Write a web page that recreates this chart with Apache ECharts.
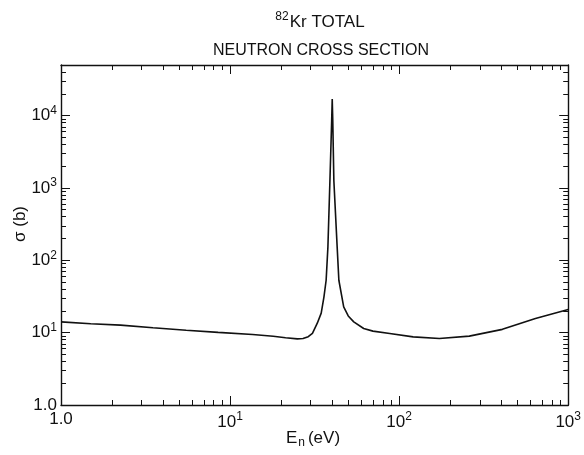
<!DOCTYPE html>
<html>
<head>
<meta charset="utf-8">
<script src="https://cdn.jsdelivr.net/npm/echarts@6/dist/echarts.min.js"></script>
<style>html,body{margin:0;padding:0;background:#fff;}#c{width:584px;height:455px;}</style>
</head>
<body>
<div id="c"></div>
<script>
// Data (energy in eV, total cross section in barns)
var energy = [1, 1.5, 2.25, 3.5, 5.5, 8.5, 13.6, 18, 21.3, 25, 27, 29, 30.7, 32.8, 34.6, 35.9, 37.0, 37.9, 38.96, 39.9, 40.2, 40.5, 41.1, 43.0, 44, 47, 50, 53.9, 61.7, 70, 88, 121, 173, 260, 408, 640, 1000];
var sigma  = [14.1, 13.3, 12.7, 11.7, 10.8, 10.1, 9.44, 8.9, 8.5, 8.2, 8.3, 8.8, 9.8, 13.5, 18.6, 31, 53, 152, 1270, 8500, 17000, 8500, 1270, 152, 53, 22.7, 17, 14.1, 11.4, 10.5, 9.75, 8.75, 8.3, 8.95, 11.1, 15.7, 20.9];

var xMajor = [1, 10, 100, 1000];
var xMinor = [2,3,4,5,6,7,8,9, 20,30,40,50,60,70,80,90, 200,300,400,500,600,700,800,900];
var yMajor = [1, 10, 100, 1000, 10000];
var yMinor = [2,3,4,5,6,7,8,9, 20,30,40,50,60,70,80,90, 200,300,400,500,600,700,800,900,
              2000,3000,4000,5000,6000,7000,8000,9000, 20000,30000,40000];

var FONT = 'Liberation Sans';
var rich = {
  b: {fontFamily: FONT, fontSize: 17, color: '#111'},
  s: {fontFamily: FONT, fontSize: 12, color: '#111', padding: [0, 0, 10, 0]}
};
function powLabel(v) {
  if (v === 1) return '{b|1.0}';
  var e = Math.round(Math.log10(v));
  return '{b|10}{s|' + e + '}';
}

function xAx(pos, ticks, len, showLabel, showLine) {
  return {
    type: 'log', logBase: 10, min: 1, max: 1000, position: pos,
    axisLine: {show: showLine, onZero: false, lineStyle: {color: '#111', width: 1.4}},
    axisTick: {show: true, inside: true, length: len, customValues: ticks, lineStyle: {color: '#111', width: 1}},
    axisLabel: {show: showLabel, customValues: xMajor, formatter: powLabel, rich: rich, margin: 6},
    splitLine: {show: false}
  };
}
function yAx(pos, ticks, len, showLabel, showLine) {
  return {
    type: 'log', logBase: 10, min: 1, max: 50000, position: pos,
    axisLine: {show: showLine, onZero: false, lineStyle: {color: '#111', width: 1.4}},
    axisTick: {show: true, inside: true, length: len, customValues: ticks, lineStyle: {color: '#111', width: 1}},
    axisLabel: {show: showLabel, customValues: yMajor, formatter: powLabel, rich: rich, margin: 4},
    splitLine: {show: false}
  };
}

var chart = echarts.init(document.getElementById('c'), null, {renderer: 'canvas'});
chart.setOption({
  backgroundColor: '#fff',
  animation: false,
  grid: {left: 61, right: 11, top: 65, bottom: 50, containLabel: false},
  title: [
    {text: '{s|82}{t|Kr TOTAL}', left: 315, top: 6, textAlign: 'center',
     textStyle: {fontWeight: 'normal', rich: {
       s: {fontFamily: FONT, fontSize: 12, fontWeight: 'normal', color: '#111', padding: [0, 1, 10, 0]},
       t: {fontFamily: FONT, fontSize: 17, fontWeight: 'normal', color: '#111'}
     }}},
    {text: 'NEUTRON CROSS SECTION', left: 316, top: 38, textAlign: 'center',
     textStyle: {fontFamily: FONT, fontSize: 16, fontWeight: 'normal', color: '#111'}}
  ],
  xAxis: [
    xAx('bottom', xMinor, 5, true, true),
    xAx('top', xMinor, 5, false, true),
    xAx('bottom', xMajor, 9, false, false),
    xAx('top', xMajor, 9, false, false)
  ],
  yAxis: [
    yAx('left', yMinor, 5, true, true),
    yAx('right', yMinor, 5, false, true),
    yAx('left', yMajor, 9, false, false),
    yAx('right', yMajor, 9, false, false)
  ],
  graphic: [
    {type: 'text', x: 20, y: 224, rotation: Math.PI / 2,
     style: {text: 'σ (b)', fontFamily: FONT, fontSize: 17, fill: '#111', align: 'center', verticalAlign: 'middle'}},
    {type: 'text', x: 313, y: 438,
     style: {text: '{n|E}{sub|n}{n|(eV)}', align: 'center', verticalAlign: 'middle',
       rich: {
         n: {fontFamily: FONT, fontSize: 17, fill: '#111', color: '#111'},
         sub: {fontFamily: FONT, fontSize: 12, fill: '#111', color: '#111', padding: [9, 3, 0, 1]}
       }}}
  ],
  series: [{
    type: 'line',
    xAxisIndex: 0, yAxisIndex: 0,
    data: energy.map(function (e, i) { return [e, sigma[i]]; }),
    showSymbol: false, smooth: false,
    lineStyle: {color: '#111', width: 1.6}
  }]
});
</script>
</body>
</html>
